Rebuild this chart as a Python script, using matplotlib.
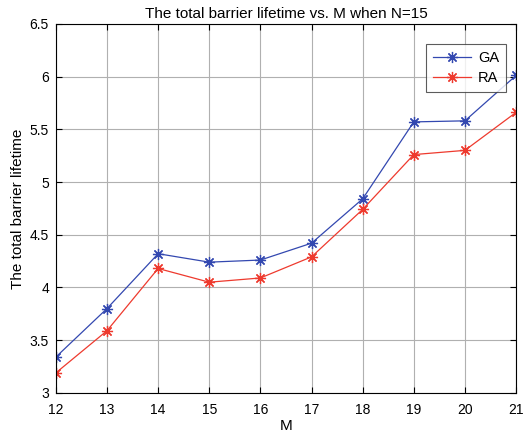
import matplotlib
matplotlib.use('Agg')
import matplotlib.pyplot as plt

M = [12, 13, 14, 15, 16, 17, 18, 19, 20, 21]
ga = [3.34, 3.80, 4.32, 4.24, 4.26, 4.42, 4.84, 5.57, 5.58, 6.01]
ra = [3.19, 3.59, 4.18, 4.05, 4.09, 4.29, 4.74, 5.26, 5.30, 5.66]

plt.rcParams['font.family'] = ['Liberation Sans', 'DejaVu Sans']

fig = plt.figure(figsize=(5.32, 4.41), dpi=100)
ax = fig.add_axes([0.105, 0.109, 0.865, 0.837])

# MATLAB-style '*' marker: 8-arm asterisk
star = (8, 2, 0)
ax.plot(M, ga, color='#3348b0', marker=star, markersize=8, linewidth=0.9,
        markeredgewidth=0.9, label='GA')
ax.plot(M, ra, color='#ee3a2e', marker=star, markersize=8, linewidth=0.9,
        markeredgewidth=0.9, label='RA')

ax.set_xlim(12, 21)
ax.set_ylim(3, 6.5)
ax.set_xticks(M)
ax.set_yticks([3, 3.5, 4, 4.5, 5, 5.5, 6, 6.5])
ax.set_yticklabels(['3', '3.5', '4', '4.5', '5', '5.5', '6', '6.5'])
ax.grid(True, color='#b0b0b0', linewidth=0.8)
ax.tick_params(direction='in', labelsize=10, top=True, right=True, length=4)
ax.tick_params(axis='x', pad=7)
ax.tick_params(axis='y', pad=5)
for s in ax.spines.values():
    s.set_linewidth(0.8)

ax.set_xlabel('M', fontsize=11, labelpad=2)
ax.set_ylabel('The total barrier lifetime', fontsize=11, labelpad=3)
ax.set_title('The total barrier lifetime vs. M when N=15', fontsize=11, pad=4)

leg = ax.legend(loc='upper right', bbox_to_anchor=(0.995, 0.965), fancybox=False,
                edgecolor='#333333', fontsize=10.5, handlelength=2.6,
                handletextpad=0.5, borderpad=0.5, labelspacing=0.4)
leg.get_frame().set_linewidth(0.8)

fig.savefig('out.png', dpi=100)
